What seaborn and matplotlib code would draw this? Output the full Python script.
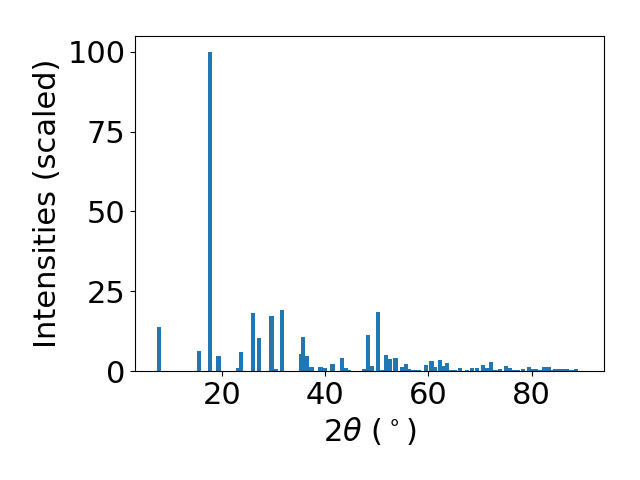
import numpy as np
import matplotlib
matplotlib.use("Agg")
import matplotlib.pyplot as plt
import seaborn as sns

two_theta = [7.7, 15.5, 17.6, 19.2, 19.4, 23.1, 23.6, 25.9, 27.1, 29.45, 29.65, 30.4, 31.6,
             35.3, 35.7, 36.5, 37.2, 37.4, 39.0, 39.2, 40.0, 41.3, 41.5, 43.25, 44.0, 44.5,
             47.5, 48.3, 49.1, 50.2, 51.0, 51.8, 52.5, 53.55, 53.75, 54.8, 55.7, 56.3,
             56.9, 57.5, 58.1, 59.5, 60.6, 61.3, 62.2, 62.8, 63.6, 64.4, 65.2, 66.1,
             67.4, 68.5, 69.4, 70.6, 71.4, 72.2, 73.0, 73.8, 75.1, 75.9, 76.5, 77.4,
             78.3, 79.55, 80.2, 80.9, 81.7, 82.5, 83.3, 84.0, 84.6, 85.4, 86.2, 86.8,
             87.4, 88.0, 88.7]
intensity = [13.8, 6.3, 100.0, 4.7, 4.7, 1.0, 6.0, 18.2, 10.3, 17.2, 17.2, 0.5, 19.1,
             5.3, 10.6, 4.7, 1.2, 1.2, 1.3, 1.3, 0.9, 2.2, 2.2, 4.1, 1.0, 0.3,
             0.5, 11.3, 1.7, 18.5, 0.3, 5.0, 3.8, 4.1, 4.1, 1.2, 2.2, 0.6,
             0.3, 0.3, 0.3, 1.8, 3.2, 1.2, 3.5, 1.5, 2.6, 0.3, 0.3, 0.9,
             0.2, 0.9, 0.9, 1.8, 0.9, 2.9, 0.3, 0.5, 1.5, 0.9, 0.3, 0.3,
             0.6, 1.2, 0.5, 0.6, 0.2, 1.2, 1.2, 0.2, 0.6, 0.6, 0.6, 0.6,
             0.2, 0.2, 0.6]

bar_width = 0.8
x = np.array(two_theta)
min_diff = np.min(np.diff(np.unique(x)))

fig, ax = plt.subplots(figsize=(6.4, 4.8), dpi=100)
sns.barplot(x=x, y=intensity, native_scale=True, orient="x", width=bar_width / min_diff,
            color="#1f77b4", saturation=1, errorbar=None, linewidth=0, ax=ax)

ax.set_xlim(3.05, 94.1)
ax.set_ylim(0, 105)
ax.set_xticks([20, 40, 60, 80])
ax.set_yticks([0, 25, 50, 75, 100])
ax.set_xlabel(r"$2\theta$ ($^\circ$)", fontsize=22)
ax.set_ylabel("Intensities (scaled)", fontsize=22)
ax.tick_params(labelsize=22)
fig.subplots_adjust(left=0.211, right=0.944, top=0.925, bottom=0.227)
fig.savefig("out.png", dpi=100)
